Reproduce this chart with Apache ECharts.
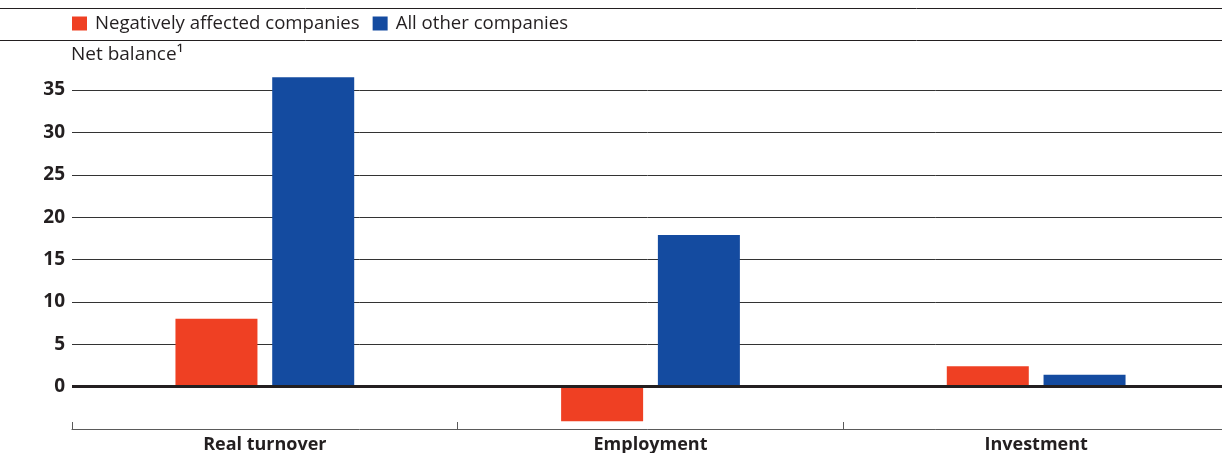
<!DOCTYPE html>
<html>
<head>
<meta charset="utf-8">
<script src="https://cdn.jsdelivr.net/npm/echarts@6/dist/echarts.min.js"></script>
<style>
  html, body { margin: 0; padding: 0; background: #ffffff; }
  #chart { width: 1222px; height: 453px; }
</style>
</head>
<body>
<div id="chart"></div>
<script>
// Survey net balances by company group
const categories = ['Real turnover', 'Employment', 'Investment'];
const seriesNames = ['Negatively affected companies', 'All other companies'];
const negativelyAffected = [8.0, -4.1, 2.4];
const allOtherCompanies = [36.5, 17.9, 1.4];

// Value axis range and step
const yMin = -5;
const yMax = 35;
const yStep = 5;
const yAxisTitle = 'Net balance\u00b9';

const INK = '#231f20';
const RED = '#ef4023';
const BLUE = '#144ba0';
const FONT = '"Open Sans", "DejaVu Sans", sans-serif';

const chart = echarts.init(document.getElementById('chart'), null, { renderer: 'canvas' });

chart.setOption({
  animation: false,
  backgroundColor: '#ffffff',
  textStyle: { fontFamily: FONT, color: INK },
  title: {
    text: yAxisTitle,
    left: 71,
    top: 45,
    padding: 0,
    textStyle: { fontFamily: FONT, fontSize: 19, fontWeight: 'normal', color: INK }
  },
  legend: {
    data: seriesNames,
    left: 72,
    top: 14,
    padding: 0,
    icon: 'rect',
    itemWidth: 15,
    itemHeight: 14,
    itemGap: 13,
    selectedMode: false,
    textStyle: { fontFamily: FONT, fontSize: 18.6, color: INK, padding: [0, 0, 0, 3] }
  },
  graphic: [
    { type: 'line', shape: { x1: 0, y1: 8.5, x2: 1222, y2: 8.5 }, style: { stroke: INK, lineWidth: 1 }, silent: true },
    { type: 'line', shape: { x1: 0, y1: 40.5, x2: 1222, y2: 40.5 }, style: { stroke: INK, lineWidth: 1 }, silent: true }
  ],
  grid: { left: 72, top: 90, right: -7, height: 339, containLabel: false, outerBoundsMode: 'none' },
  xAxis: {
    type: 'category',
    data: categories,
    boundaryGap: true,
    axisLine: { show: true, onZero: false, lineStyle: { color: '#5a5a5a', width: 1 } },
    axisTick: { show: true, inside: true, length: 7, lineStyle: { color: '#5a5a5a', width: 1 } },
    axisLabel: { fontFamily: FONT, fontSize: 18, fontWeight: 'bold', color: INK, margin: 7 },
    splitLine: { show: false }
  },
  yAxis: {
    type: 'value',
    min: yMin,
    max: yMax,
    interval: yStep,
    axisLine: { show: false },
    axisTick: { show: false },
    axisLabel: {
      fontFamily: FONT, fontSize: 19, fontWeight: 'bold', color: INK, margin: 7,
      showMinLabel: false
    },
    splitLine: { show: true, showMinLine: false, lineStyle: { color: '#333333', width: 1 } }
  },
  series: [
    {
      name: seriesNames[0],
      type: 'bar',
      data: negativelyAffected,
      barWidth: 82,
      barGap: '18%',
      clip: false,
      itemStyle: { color: RED },
      markLine: {
        silent: true,
        symbol: 'none',
        label: { show: false },
        lineStyle: { color: INK, width: 3, type: 'solid' },
        data: [{ yAxis: 0 }]
      }
    },
    {
      name: seriesNames[1],
      type: 'bar',
      data: allOtherCompanies,
      barWidth: 82,
      barGap: '18%',
      clip: false,
      itemStyle: { color: BLUE }
    }
  ]
});
</script>
</body>
</html>
